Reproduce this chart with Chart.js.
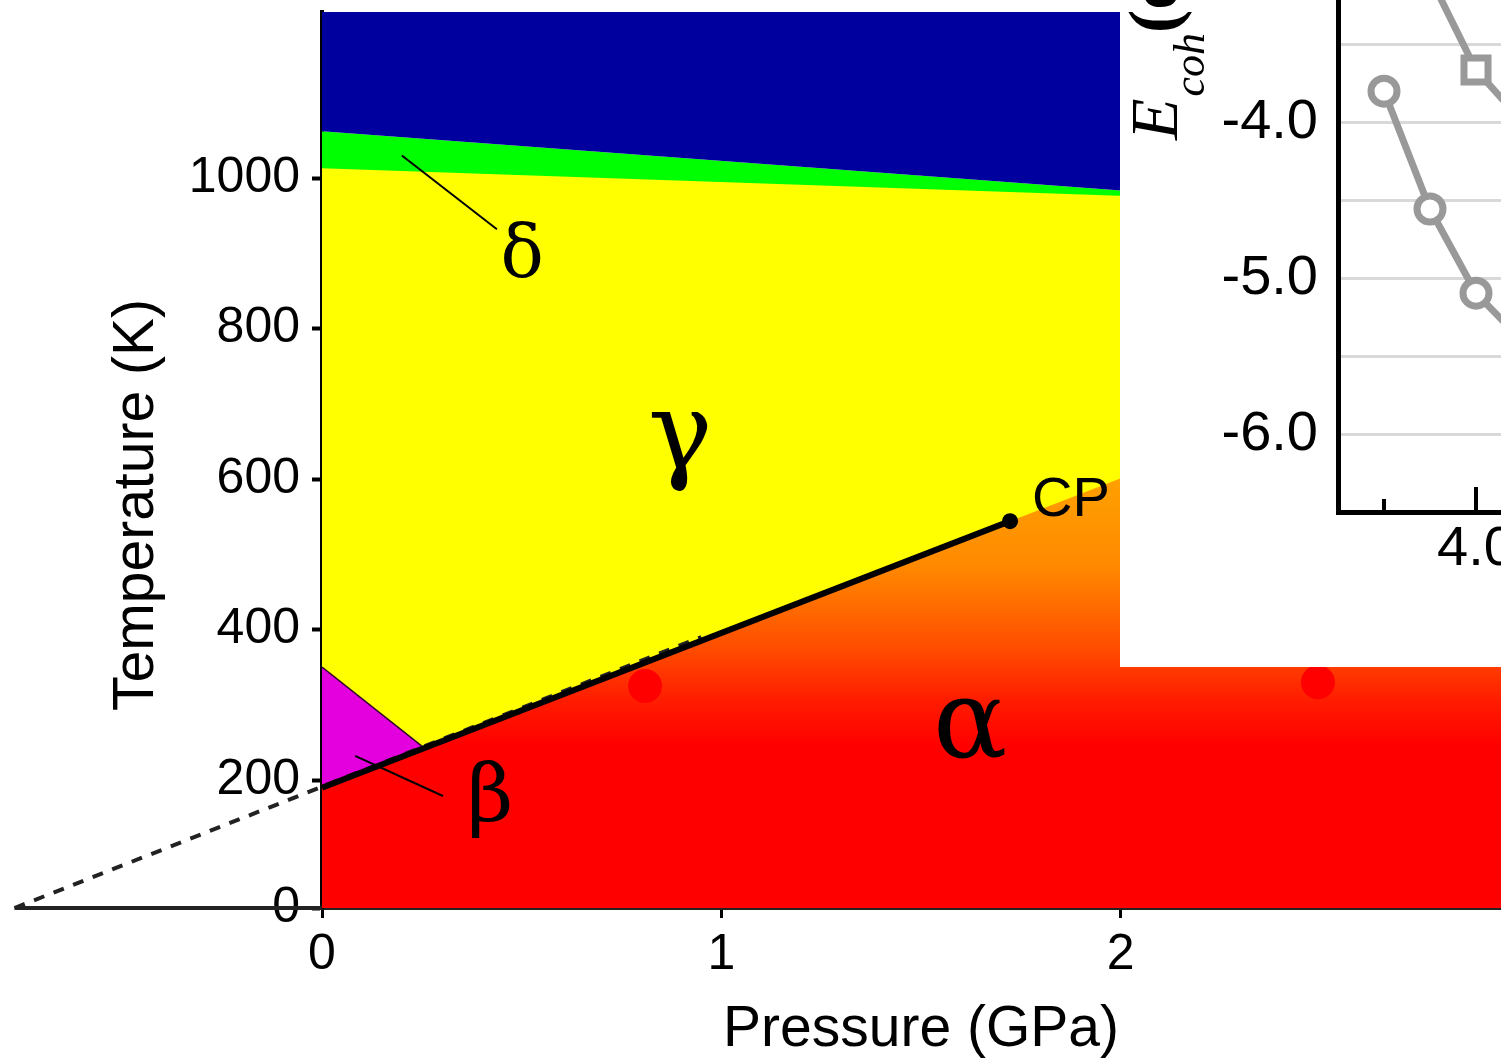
<!DOCTYPE html>
<html lang="en">
<head>
<meta charset="UTF-8">
<title>Pressure–temperature phase diagram</title>
<style>
  html, body { margin: 0; padding: 0; background: #fff; overflow: hidden; }
  #stage { position: relative; width: 1501px; height: 1062px; overflow: hidden; }
  #phase { position: absolute; left: 0; top: 0; }
  #inset { position: absolute; left: 1120px; top: -150px; background: #fff; }
</style>
</head>
<body>
<div id="stage">
  <canvas id="phase" width="1520" height="1062"></canvas>
  <canvas id="inset" width="586" height="817"></canvas>
</div>

<script src="https://cdn.jsdelivr.net/npm/chart.js"></script>
<script>
  // ---- phase boundaries (pressure in GPa, temperature in K) ----
  const deltaTopP = [0, 2.339, 3.0];
  const deltaTopT = [1062, 970, 945];
  const deltaBottomP = [0, 2.339, 3.0];
  const deltaBottomT = [1013, 970, 945];
  const betaP = [0, 0.25];
  const betaT = [350, 245];
  const alphaP = [0, 1.723, 3.0];
  const alphaT = [188, 544, 807];
  const transitionP = [0, 1.723];      // measured line, ends at the critical point
  const transitionT = [188, 544];
  const extrapP = [-0.77, 0.95];       // dashed extrapolation down to 0 K
  const extrapT = [0, 390];
  const zeroP = [-0.77, 0];
  const zeroT = [0, 0];
  const critP = [1.723];
  const critT = [544];
  const markP = [0.809, 2.494];
  const markT = [325, 330];
  const deltaLeaderP = [0.2, 0.438];
  const deltaLeaderT = [1030, 932];
  const betaLeaderP = [0.083, 0.303];
  const betaLeaderT = [232, 175];
  const tempTicks = [0, 200, 400, 600, 800, 1000];
  const pressTicks = [0, 1, 2, 3];

  // ---- inset: cohesive energy ----
  const latticeCircle = [3.9, 3.95, 4.0, 4.05];
  const ecohCircle = [-3.80, -4.556, -5.096, -5.40];
  const latticeSquare = [3.95, 4.0, 4.05];
  const ecohSquare = [-3.067, -3.664, -3.99];
  const insetMajor = [4.0, 4.2];
  const insetMinor = [3.9, 4.1];

  const phaseLabels = [
    { text: 'δ', p: 0.501, t: 893, size: 72 },
    { text: 'γ', p: 0.897, t: 652, size: 108 },
    { text: 'α', p: 1.623, t: 269, size: 110 },
    { text: 'β', p: 0.421, t: 169, size: 80 }
  ];

  const SANS = '"Liberation Sans", Arial, Helvetica, sans-serif';
  const SERIF = '"Liberation Serif", "Times New Roman", serif';
  const GREEK = '"DejaVu Serif", "Liberation Serif", serif';
  const pts = (xs, ys) => xs.map((x, i) => ({ x, y: ys[i] }));

  // temperature axis: the 0-200 K band is drawn on a tighter pitch than the rest
  const KINK = 200;
  const LOW_PITCH = 0.8505;
  class KinkedScale extends Chart.LinearScale {
    static id = 'kinked';
    static defaults = Chart.LinearScale.defaults;
    _warp(v) { return v < KINK ? KINK - (KINK - v) * LOW_PITCH : v; }
    configure() {
      super.configure();
      this._startValue = this._warp(this.min);
      this._valueRange = this._warp(this.max) - this._startValue;
    }
    getPixelForValue(v) {
      return v === null ? NaN : this.getPixelForDecimal((this._warp(v) - this._startValue) / this._valueRange);
    }
    getValueForPixel(px) {
      const w = this._startValue + this.getDecimalForPixel(px) * this._valueRange;
      return w < KINK ? KINK - (KINK - w) / LOW_PITCH : w;
    }
  }
  Chart.register(KinkedScale);

  // keep the plot area fixed: no extra room for labels that overhang the ends
  const fixHeight = h => s => { s.height = h; s.paddingLeft = 0; s.paddingRight = 0; };
  const fixWidth = w => s => { s.width = w; s.paddingTop = 0; s.paddingBottom = 0; };

  function alphaFill(context) {
    const chart = context.chart;
    const y = chart.scales.y;
    if (!chart.chartArea || !y) return 'rgb(255,0,0)';
    const g = chart.ctx.createLinearGradient(0, y.getPixelForValue(600), 0, y.getPixelForValue(245));
    g.addColorStop(0, 'rgb(255,160,0)');
    g.addColorStop(0.32, 'rgb(255,138,0)');
    g.addColorStop(0.64, 'rgb(255,75,0)');
    g.addColorStop(0.83, 'rgb(255,28,0)');
    g.addColorStop(1, 'rgb(255,0,0)');
    return g;
  }

  const area = (data, color, fill, order) => ({
    data, fill, order, backgroundColor: color,
    borderWidth: 0, pointRadius: 0
  });

  const phaseText = {
    id: 'phaseText',
    afterDatasetsDraw(chart) {
      const { ctx, scales: { x, y } } = chart;
      ctx.save();
      ctx.fillStyle = '#000';
      ctx.textAlign = 'center';
      ctx.textBaseline = 'middle';
      for (const l of phaseLabels) {
        ctx.font = l.size + 'px ' + GREEK;
        ctx.fillText(l.text, x.getPixelForValue(l.p), y.getPixelForValue(l.t));
      }
      ctx.font = '56px ' + SANS;
      ctx.textAlign = 'left';
      ctx.fillText('CP', x.getPixelForValue(critP[0]) + 22, y.getPixelForValue(critT[0]) - 21);
      // axis title, reads bottom to top
      ctx.textAlign = 'center';
      ctx.font = '57px ' + SANS;
      ctx.translate(137, (chart.chartArea.top + chart.chartArea.bottom) / 2 + 45);
      ctx.rotate(-Math.PI / 2);
      ctx.fillText('Temperature (K)', 0, 0);
      ctx.restore();
    }
  };

  new Chart(document.getElementById('phase'), {
    type: 'line',
    data: {
      datasets: [
        area(pts(deltaTopP, deltaTopT), '#00ff00', 'start', 10),
        area(pts(deltaBottomP, deltaBottomT), '#ffff00', 'start', 9),
        { data: pts(betaP, betaT), fill: 'start', order: 8, backgroundColor: 'rgb(228,0,222)',
          borderColor: '#300030', borderWidth: 1.5, pointRadius: 0 },
        area(pts(alphaP, alphaT), alphaFill, 'start', 7),
        area(pts(deltaTopP, deltaTopT), 'rgb(0,0,158)', 'end', 6),
        { data: pts(markP, markT), showLine: false, order: 5, pointRadius: 17,
          pointBackgroundColor: 'rgb(255,0,0)', pointBorderWidth: 0 },
        { data: pts(extrapP, extrapT), order: 4, clip: false, borderColor: '#222',
          borderWidth: 4, borderDash: [11, 10], pointRadius: 0 },
        { data: pts(zeroP, zeroT), order: 4, clip: false, borderColor: '#222',
          borderWidth: 4, pointRadius: 0 },
        { data: pts(transitionP, transitionT), order: 3, borderColor: '#000',
          borderWidth: 6, pointRadius: 0 },
        { data: pts(deltaLeaderP, deltaLeaderT), order: 2, borderColor: '#000', borderWidth: 2, pointRadius: 0 },
        { data: pts(betaLeaderP, betaLeaderT), order: 2, borderColor: '#000', borderWidth: 2, pointRadius: 0 },
        { data: pts(critP, critT), showLine: false, order: 1, pointRadius: 8,
          pointBackgroundColor: '#000', pointBorderWidth: 0 }
      ]
    },
    options: {
      responsive: false,
      animation: false,
      devicePixelRatio: 1,
      events: [],
      layout: { autoPadding: false, padding: { top: 12, left: 0, right: 0, bottom: 0 } },
      plugins: { legend: { display: false }, tooltip: { enabled: false } },
      scales: {
        x: {
          type: 'linear', min: 0, max: 3, z: 1,
          afterFit: fixHeight(154),
          afterBuildTicks: s => { s.ticks = pressTicks.map(v => ({ value: v })); },
          ticks: { color: '#000', font: { family: SANS, size: 50 }, padding: 7, maxRotation: 0,
                   callback: v => String(v) },
          grid: { drawOnChartArea: false, tickLength: 10, tickWidth: 3, tickColor: '#000' },
          border: { color: '#222', width: 4 },
          title: { display: true, text: 'Pressure (GPa)', color: '#000',
                   font: { family: SANS, size: 57, lineHeight: 1 }, padding: { top: 0, bottom: 3.5 } }
        },
        y: {
          type: 'kinked', min: 0, max: 1220.6, z: 1,
          afterFit: fixWidth(322),
          afterBuildTicks: s => { s.ticks = tempTicks.map(v => ({ value: v })); },
          ticks: { color: '#000', font: { family: SANS, size: 50 }, padding: 12,
                   callback: v => String(v) },
          grid: { drawOnChartArea: false, tickLength: 10, tickWidth: 4, tickColor: '#000' },
          border: { color: '#000', width: 4 }
        }
      }
    },
    plugins: [phaseText]
  });

  // ---- inset chart ----
  const GREY = 'rgb(153,153,153)';

  const insetExtras = {
    id: 'insetExtras',
    afterDraw(chart) {
      const { ctx, chartArea, scales: { x } } = chart;
      ctx.save();
      ctx.strokeStyle = '#000';
      ctx.lineWidth = 4;
      const tick = (v, len) => {
        const px = x.getPixelForValue(v);
        ctx.beginPath();
        ctx.moveTo(px, chartArea.bottom);
        ctx.lineTo(px, chartArea.bottom - len);
        ctx.stroke();
      };
      insetMajor.forEach(v => tick(v, 25));
      insetMinor.forEach(v => tick(v, 13));

      // E_coh (eV), rotated
      ctx.fillStyle = '#000';
      ctx.textBaseline = 'alphabetic';
      ctx.textAlign = 'left';
      ctx.translate(chartArea.left - 161, 290);
      ctx.rotate(-Math.PI / 2);
      ctx.font = 'italic 68px ' + SERIF;
      ctx.fillText('E', 0, 0);
      let w = ctx.measureText('E').width + 2;
      ctx.font = 'italic 44px ' + SERIF;
      ctx.fillText('coh', w, 27);
      w += ctx.measureText('coh').width;
      ctx.font = 'bold 70px ' + SERIF;
      ctx.fillText('(eV)', w, 0);
      ctx.restore();
    }
  };

  const insetSeries = (data, style, radius) => ({
    data, borderColor: GREY, borderWidth: 7,
    pointStyle: style, pointRadius: radius, pointBorderWidth: 7,
    pointBorderColor: GREY, pointBackgroundColor: '#fff'
  });

  new Chart(document.getElementById('inset'), {
    type: 'line',
    data: {
      datasets: [
        insetSeries(pts(latticeCircle, ecohCircle), 'circle', 13),
        insetSeries(pts(latticeSquare, ecohSquare), 'rect', 17)
      ]
    },
    options: {
      responsive: false,
      animation: false,
      devicePixelRatio: 1,
      events: [],
      layout: { autoPadding: false, padding: { top: 38.6, left: 0, right: 0, bottom: 0 } },
      plugins: { legend: { display: false }, tooltip: { enabled: false } },
      scales: {
        x: {
          type: 'linear', min: 3.85, max: 4.25,
          afterFit: fixHeight(155),
          afterBuildTicks: s => { s.ticks = insetMinor.concat(insetMajor).sort().map(v => ({ value: v })); },
          ticks: { color: '#000', font: { family: SANS, size: 56 }, padding: 4, maxRotation: 0,
                   callback: v => insetMajor.includes(v) ? v.toFixed(1) : '' },
          grid: { display: false, drawTicks: false },
          border: { color: '#000', width: 5 }
        },
        y: {
          min: -6.5, max: -2.5,
          afterFit: fixWidth(218),
          ticks: { stepSize: 0.5, color: '#000', font: { family: SANS, size: 56 }, padding: 20,
                   callback: v => Number.isInteger(v) ? v.toFixed(1) : '' },
          grid: { color: '#d9d9d9', lineWidth: 3, drawTicks: false },
          border: { color: '#000', width: 5 }
        }
      }
    },
    plugins: [insetExtras]
  });
</script>
</body>
</html>
